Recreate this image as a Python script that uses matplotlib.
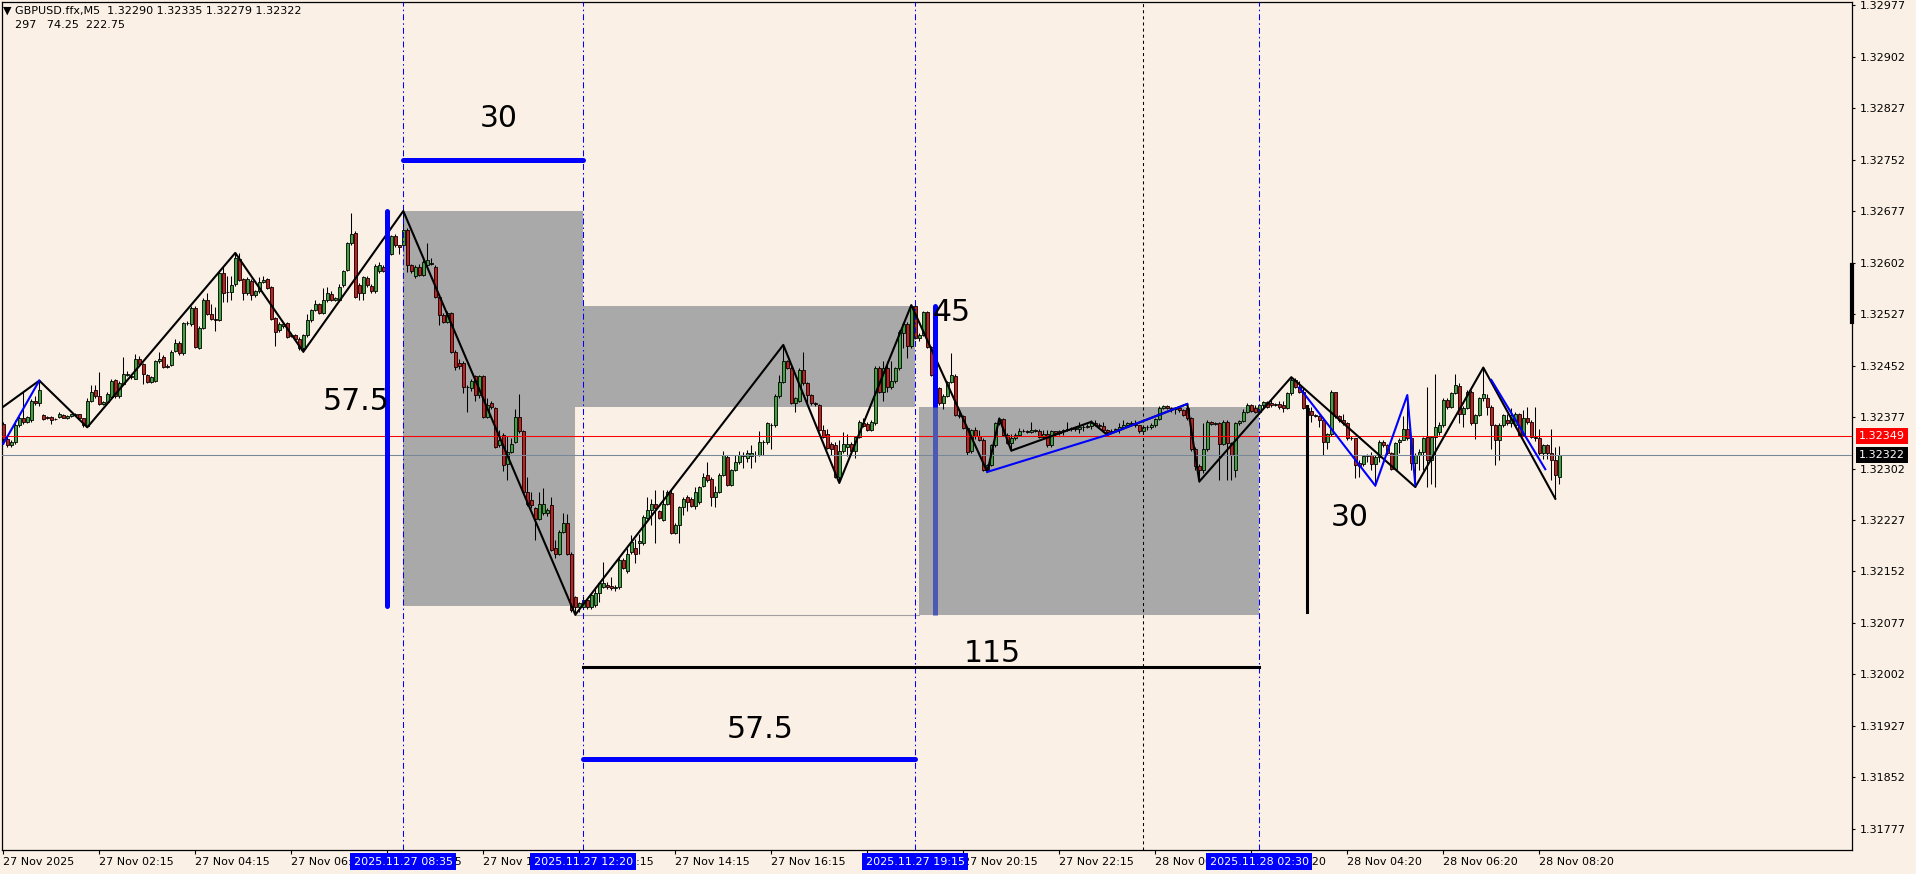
import numpy as np
import matplotlib
matplotlib.use('Agg')
import matplotlib.pyplot as plt
from matplotlib.patches import Rectangle
from matplotlib.transforms import blended_transform_factory

# prices are stored as points above 1.32000 (1 point = 0.00001)
BASE = 1.32
PT = 0.00001

opens = [
    367, 345, 336, 340, 365, 375, 370, 372, 401, 397, 380, 377, 377, 374, 377, 380, 376, 378, 380, 381,
    375, 364, 401, 416, 407, 396, 399, 406, 431, 407, 425, 438, 437, 433, 461, 454, 438, 428, 430, 458,
    464, 450, 453, 473, 485, 470, 514, 512, 536, 478, 507, 548, 527, 520, 519, 586, 559, 559, 570, 607,
    578, 557, 575, 554, 560, 574, 578, 566, 521, 503, 509, 514, 496, 496, 491, 477, 496, 518, 533, 541,
    529, 547, 556, 548, 548, 569, 591, 630, 645, 569, 557, 580, 568, 560, 589, 596, 591, 615, 640, 627,
    627, 649, 598, 582, 596, 584, 598, 601, 596, 552, 526, 516, 528, 472, 455, 455, 421, 419, 436, 409,
    436, 377, 397, 390, 336, 351, 309, 326, 341, 377, 356, 268, 256, 244, 229, 237, 237, 249, 186, 178,
    210, 222, 178, 115, 100, 100, 111, 101, 103, 120, 130, 133, 131, 128, 130, 169, 152, 180, 186, 193,
    193, 230, 241, 250, 240, 227, 251, 266, 208, 220, 246, 261, 257, 248, 253, 276, 292, 286, 260, 268,
    293, 319, 278, 300, 312, 321, 318, 320, 321, 322, 341, 340, 366, 365, 407, 428, 458, 449, 398, 401,
    446, 426, 409, 397, 394, 358, 352, 338, 336, 290, 327, 333, 338, 327, 348, 368, 367, 358, 368, 448,
    414, 449, 420, 430, 448, 499, 513, 480, 538, 492, 497, 530, 479, 433, 419, 397, 408, 428, 437, 380,
    378, 361, 327, 358, 350, 344, 300, 307, 336, 368, 374, 351, 339, 346, 351, 356, 356, 355, 358, 357,
    348, 352, 336, 356, 353, 356, 358, 359, 361, 359, 362, 363, 364, 368, 366, 364, 358, 355, 357, 359,
    363, 366, 368, 367, 365, 356, 362, 363, 365, 374, 390, 393, 390, 388, 390, 387, 390, 375, 330, 305,
    300, 330, 370, 367, 368, 337, 370, 339, 300, 368, 371, 385, 395, 390, 385, 394, 399, 398, 394, 396,
    395, 390, 412, 431, 421, 414, 390, 386, 380, 379, 372, 340, 352, 414, 378, 373, 368, 346, 347, 310,
    308, 320, 321, 309, 319, 341, 336, 324, 302, 341, 344, 360, 346, 310, 322, 326, 348, 314, 348, 355,
    365, 402, 392, 412, 422, 382, 390, 414, 368, 380, 404, 404, 392, 365, 343, 365, 372, 368, 365, 381,
    351, 375, 370, 348, 346, 324, 336, 324, 314, 290,
]
highs = [
    370, 350, 343, 372, 378, 413, 379, 403, 408, 430, 382, 379, 379, 375, 384, 382, 380, 382, 383, 382,
    376, 404, 423, 423, 442, 401, 413, 432, 433, 430, 465, 444, 440, 469, 466, 456, 440, 437, 460, 472,
    468, 454, 474, 491, 487, 516, 517, 538, 538, 509, 550, 557, 542, 537, 590, 595, 583, 583, 616, 616,
    580, 581, 578, 562, 581, 583, 580, 568, 523, 516, 515, 516, 500, 498, 493, 498, 527, 535, 547, 543,
    565, 566, 560, 552, 570, 591, 632, 674, 648, 572, 583, 583, 570, 600, 603, 598, 615, 642, 643, 628,
    677, 652, 600, 599, 600, 605, 630, 608, 598, 556, 528, 531, 530, 474, 462, 458, 424, 432, 438, 438,
    438, 404, 400, 392, 358, 353, 350, 347, 388, 410, 358, 290, 268, 246, 268, 273, 244, 260, 198, 212,
    237, 236, 180, 117, 108, 117, 113, 120, 130, 137, 166, 136, 144, 132, 171, 171, 186, 205, 199, 207,
    234, 261, 258, 271, 242, 271, 271, 271, 222, 248, 260, 263, 260, 275, 277, 296, 312, 290, 277, 295,
    327, 321, 302, 321, 327, 326, 329, 336, 327, 356, 343, 369, 368, 411, 438, 482, 460, 451, 406, 448,
    472, 428, 411, 399, 396, 365, 359, 340, 341, 343, 355, 352, 340, 350, 372, 375, 370, 373, 451, 451,
    458, 459, 459, 450, 503, 515, 516, 540, 540, 500, 532, 532, 481, 435, 421, 410, 430, 470, 439, 389,
    380, 363, 360, 362, 358, 346, 309, 338, 370, 375, 375, 353, 352, 353, 361, 359, 358, 370, 359, 360,
    358, 358, 358, 356, 358, 360, 370, 363, 363, 370, 365, 367, 373, 372, 368, 370, 360, 359, 361, 368,
    372, 370, 371, 373, 366, 365, 366, 368, 376, 393, 395, 394, 391, 392, 391, 388, 396, 377, 333, 308,
    368, 372, 371, 370, 370, 372, 372, 341, 370, 373, 388, 398, 396, 394, 396, 401, 401, 403, 398, 400,
    401, 414, 435, 434, 430, 421, 394, 392, 382, 380, 377, 354, 416, 414, 380, 382, 370, 350, 347, 314,
    322, 323, 326, 321, 343, 343, 337, 326, 341, 347, 379, 409, 346, 324, 330, 348, 421, 350, 440, 369,
    405, 404, 414, 440, 426, 393, 416, 416, 382, 406, 449, 411, 394, 367, 368, 382, 381, 390, 384, 383,
    387, 392, 372, 392, 360, 338, 338, 360, 334, 335,
]
lows = [
    340, 333, 334, 338, 362, 367, 368, 369, 395, 393, 372, 374, 367, 372, 376, 375, 374, 377, 379, 374,
    362, 362, 399, 405, 394, 394, 397, 404, 405, 404, 423, 437, 433, 432, 452, 425, 426, 426, 428, 456,
    448, 448, 451, 471, 468, 468, 511, 510, 477, 476, 505, 525, 518, 502, 517, 545, 545, 547, 568, 575,
    547, 555, 547, 552, 558, 572, 563, 518, 480, 501, 506, 492, 493, 489, 474, 472, 494, 516, 531, 527,
    527, 545, 546, 546, 546, 567, 589, 628, 550, 548, 548, 566, 557, 558, 587, 588, 569, 613, 625, 615,
    625, 588, 586, 580, 582, 582, 596, 598, 550, 511, 514, 514, 470, 445, 447, 412, 385, 415, 400, 405,
    375, 375, 389, 332, 333, 298, 285, 324, 339, 354, 266, 248, 244, 198, 227, 235, 233, 182, 172, 176,
    208, 176, 93, 89, 93, 97, 97, 98, 100, 108, 128, 127, 125, 124, 127, 155, 150, 178, 165, 178,
    191, 228, 220, 193, 228, 225, 249, 206, 206, 193, 235, 240, 246, 243, 250, 275, 283, 247, 246, 266,
    291, 276, 276, 298, 309, 303, 312, 303, 312, 320, 322, 338, 331, 363, 404, 426, 447, 396, 385, 399,
    424, 397, 395, 393, 356, 346, 330, 322, 288, 281, 325, 320, 322, 317, 346, 362, 356, 356, 366, 412,
    400, 414, 418, 426, 446, 478, 463, 478, 490, 488, 495, 477, 436, 417, 395, 389, 406, 426, 378, 376,
    359, 322, 325, 345, 342, 298, 297, 305, 334, 366, 349, 337, 328, 343, 349, 355, 353, 353, 355, 346,
    346, 333, 334, 351, 351, 351, 356, 357, 357, 353, 356, 361, 359, 364, 362, 355, 351, 353, 355, 354,
    362, 364, 365, 362, 354, 355, 358, 359, 363, 372, 388, 388, 385, 381, 385, 378, 373, 327, 300, 283,
    296, 328, 365, 365, 285, 336, 285, 285, 290, 366, 369, 383, 384, 383, 383, 388, 390, 392, 393, 389,
    385, 388, 409, 419, 412, 388, 378, 370, 377, 363, 322, 331, 349, 376, 369, 366, 344, 343, 288, 290,
    306, 312, 300, 277, 312, 334, 322, 300, 301, 325, 344, 344, 300, 275, 300, 300, 275, 280, 275, 351,
    363, 388, 390, 410, 368, 363, 388, 366, 345, 378, 400, 380, 330, 307, 314, 363, 365, 363, 363, 349,
    349, 367, 346, 342, 322, 316, 316, 285, 258, 279,
]
closes = [
    345, 336, 340, 365, 375, 370, 377, 401, 397, 416, 374, 376, 373, 374, 381, 376, 379, 381, 381, 375,
    365, 401, 413, 407, 396, 399, 411, 430, 407, 427, 439, 439, 435, 462, 454, 439, 428, 435, 458, 461,
    450, 452, 472, 485, 470, 514, 514, 536, 479, 507, 548, 527, 520, 519, 587, 557, 559, 569, 608, 577,
    557, 578, 554, 560, 574, 577, 565, 520, 501, 513, 513, 494, 495, 491, 477, 496, 518, 533, 541, 529,
    547, 557, 548, 550, 567, 589, 630, 644, 552, 557, 581, 569, 560, 597, 598, 590, 613, 640, 627, 625,
    649, 598, 589, 596, 584, 603, 606, 600, 552, 526, 516, 528, 472, 450, 452, 421, 420, 429, 409, 436,
    377, 395, 391, 334, 343, 307, 326, 338, 377, 356, 268, 250, 249, 228, 250, 250, 242, 184, 178, 210,
    222, 178, 96, 100, 106, 111, 100, 118, 120, 135, 135, 129, 128, 129, 169, 157, 178, 195, 178, 196,
    232, 242, 250, 245, 230, 251, 268, 208, 220, 246, 258, 253, 248, 268, 275, 290, 285, 260, 268, 293,
    322, 278, 300, 312, 321, 320, 325, 324, 322, 340, 341, 368, 366, 408, 428, 458, 449, 398, 404, 446,
    426, 409, 397, 396, 358, 348, 332, 330, 290, 327, 338, 338, 327, 348, 370, 364, 358, 369, 449, 414,
    449, 420, 430, 448, 501, 513, 480, 538, 492, 497, 530, 479, 438, 419, 397, 408, 428, 438, 380, 378,
    361, 326, 358, 350, 344, 300, 307, 336, 368, 374, 351, 339, 346, 351, 356, 357, 355, 358, 357, 348,
    352, 336, 356, 353, 356, 358, 359, 361, 359, 362, 363, 364, 368, 366, 364, 358, 355, 357, 359, 363,
    366, 368, 367, 365, 356, 362, 363, 365, 374, 390, 393, 390, 388, 390, 387, 380, 375, 330, 305, 300,
    330, 370, 367, 368, 337, 370, 339, 322, 368, 371, 385, 395, 386, 385, 394, 399, 392, 394, 396, 391,
    390, 412, 431, 421, 414, 390, 380, 380, 379, 372, 340, 352, 414, 378, 373, 368, 346, 347, 307, 306,
    320, 321, 309, 319, 341, 336, 324, 302, 339, 344, 360, 346, 310, 322, 326, 346, 314, 348, 362, 365,
    402, 392, 412, 424, 382, 390, 414, 368, 380, 404, 411, 392, 365, 343, 365, 380, 368, 380, 381, 351,
    375, 370, 348, 346, 324, 336, 324, 314, 292, 322,
]

# zigzag pivots (bar index, points)
zz_black_bar = [0, 9, 21, 58, 75, 100, 143, 195, 209, 227, 246, 249, 252, 272, 276, 296, 299, 322, 353, 370, 388]
zz_black_pts = [392, 430, 362, 616, 472, 677, 89, 482, 281, 540, 297, 375, 328, 370, 351, 396, 283, 435, 275, 449, 258]
zz_blue_legs = [
    ([0, 9], [338, 430]),
    ([246, 276, 296], [297, 351, 396]),
    ([324, 343, 351, 353], [420, 277, 409, 278]),
    ([372, 385.5], [431, 301]),
]

# drawn objects: rectangles (bar from, bar to, points low, points high)
gray_boxes = [(100, 145, 102, 677), (145, 228, 391, 539), (229, 314, 89, 391)]
blank_box = (143, 229, 89, 391)
vlines_blue = [100, 145, 228, 314]
vline_times = ['2025.11.27 08:35', '2025.11.27 12:20', '2025.11.27 19:15', '2025.11.28 02:30']
day_sep = 285

tick_bars = list(range(0, 390, 24))
tick_labels = ['27 Nov 2025', '27 Nov 02:15', '27 Nov 04:15', '27 Nov 06:15', '27 Nov 08:15',
               '27 Nov 10:15', '27 Nov 12:15', '27 Nov 14:15', '27 Nov 16:15', '27 Nov 18:15',
               '27 Nov 20:15', '27 Nov 22:15', '28 Nov 00:20', '28 Nov 02:20', '28 Nov 04:20',
               '28 Nov 06:20', '28 Nov 08:20']
price_ticks = [1.31777 + 0.00075 * k for k in range(17)]

BG = '#FAF0E6'
GREEN = '#3FA33F'
RED = '#C81E1E'
BOX = '#A9A9A9'

W, H = 1916, 874
plt.rcParams['lines.scale_dashes'] = False
plt.rcParams['font.family'] = ['DejaVu Sans']

fig = plt.figure(figsize=(W / 100, H / 100), dpi=100, facecolor=BG)
ax = fig.add_axes([2 / W, 24 / H, 1850 / W, 848 / H], facecolor=BG)
ax.set_xlim(-0.325, 462.175)
ax.set_ylim(1.317464, 1.329814)

def p(v):
    return BASE + np.asarray(v, dtype=float) * PT

o, h, l, c = p(opens), p(highs), p(lows), p(closes)
x = np.arange(len(o))

for b0, b1, lo, hi in gray_boxes[:1]:
    ax.add_patch(Rectangle((b0, p(lo)), b1 - b0, p(hi) - p(lo), fc=BOX, ec='none', zorder=1))
b0, b1, lo, hi = blank_box
ax.add_patch(Rectangle((b0, p(lo)), b1 - b0, p(hi) - p(lo), fc=BG, ec='none', zorder=1.1))
for b0, b1, lo, hi in gray_boxes[1:]:
    ax.add_patch(Rectangle((b0, p(lo)), b1 - b0, p(hi) - p(lo), fc=BOX, ec='none', zorder=1.2))
ax.plot([143, 229], [p(89), p(89)], color='#A0A0A0', lw=0.8, zorder=1.3)

# candles
ax.vlines(x, l, h, color='black', lw=0.75, zorder=3)
up = c >= o
ax.bar(x[up], (c - o)[up], bottom=o[up], width=0.75, color=GREEN, edgecolor='black', lw=0.6, zorder=4)
ax.bar(x[~up], (o - c)[~up], bottom=c[~up], width=0.75, color=RED, edgecolor='black', lw=0.6, zorder=4)

# price lines
ax.axhline(1.32349, color='red', lw=0.75, zorder=4.5)
ax.axhline(1.32322, color='#778899', lw=0.75, zorder=4.5)

for b in vlines_blue:
    ax.axvline(b, color='#0000FF', lw=0.75, ls=(0, (4.3, 2.2, 1.1, 2.2)), zorder=4.6)
ax.axvline(day_sep, color='black', lw=0.75, ls=(0, (2.2, 2.2)), zorder=4.6)

# zigzags
ax.plot(zz_black_bar, p(zz_black_pts), color='black', lw=1.5, zorder=5)
for bars, pts in zz_blue_legs:
    ax.plot(bars, p(pts), color='#0000FF', lw=1.5, zorder=5.1)

# measurement lines
ax.plot([96, 96], [p(102), p(677)], color='#0000FF', lw=3.6, solid_capstyle='round', zorder=6)
ax.plot([100, 145], [p(752), p(752)], color='#0000FF', lw=3.6, solid_capstyle='round', zorder=6)
ax.plot([233, 233], [p(391), p(539)], color='#0000FF', lw=3.6, solid_capstyle='round', zorder=6)
ax.plot([233, 233], [p(89), p(391)], color='#4D58B4', lw=3.6, solid_capstyle='butt', zorder=6)
ax.plot([145, 228], [1.31879, 1.31879], color='#0000FF', lw=3.6, solid_capstyle='round', zorder=6)
ax.plot([145, 314], [1.32013, 1.32013], color='black', lw=2.2, zorder=6)
ax.plot([326, 326], [p(93), p(393)], color='black', lw=2.2, zorder=6)

big = dict(fontsize=21.5, color='black', zorder=7, va='center')
ax.text(79.9, 1.32400, '57.5', ha='left', **big)
ax.text(123.8, 1.32812, '30', ha='center', **big)
ax.text(232.4, 1.32529, '45', ha='left', **big)
ax.text(189.2, 1.31922, '57.5', ha='center', **big)
ax.text(247.2, 1.32032, '115', ha='center', **big)
ax.text(336.7, 1.32231, '30', ha='center', **big)

# axes styling
for s in ax.spines.values():
    s.set_color('black')
    s.set_linewidth(0.9)
ax.yaxis.tick_right()
ax.set_yticks(price_ticks)
ax.set_yticklabels(['%.5f' % v for v in price_ticks])
ax.tick_params(axis='y', direction='out', length=2, width=0.8, pad=3.5, labelsize=8, colors='black')
ax.set_xticks(tick_bars)
ax.set_xticklabels(tick_labels, ha='left')
ax.tick_params(axis='x', direction='out', length=3, width=0.8, pad=2, labelsize=8, colors='black')

yside = blended_transform_factory(ax.transAxes, ax.transData)
xside = blended_transform_factory(ax.transData, ax.transAxes)
ax.text(1.0038, 1.32349, '1.32349', transform=yside, ha='left', va='center', fontsize=8, color='white',
        bbox=dict(boxstyle='square,pad=0.25', fc='#FF0000', ec='none'), clip_on=False, zorder=8)
ax.text(1.0038, 1.32322, '1.32322', transform=yside, ha='left', va='center', fontsize=8, color='white',
        bbox=dict(boxstyle='square,pad=0.25', fc='black', ec='none'), clip_on=False, zorder=8)
ax.plot([1.0, 1.0], [p(515), p(598)], transform=yside, color='black', lw=3, clip_on=False, zorder=8)

for b, t in zip(vlines_blue, vline_times):
    ax.text(b, -0.0136, t, transform=xside, ha='center', va='center', fontsize=8, color='white',
            bbox=dict(boxstyle='square,pad=0.3', fc='#0000FF', ec='none'), clip_on=False, zorder=9)

fig.text(3 / W, 1 - 11 / H, '\u25bc GBPUSD.ffx,M5  1.32290 1.32335 1.32279 1.32322',
         fontsize=8, va='center', ha='left')
fig.text(15 / W, 1 - 25 / H, '297   74.25  222.75', fontsize=8, va='center', ha='left')

fig.savefig('out.png', dpi=100, facecolor=BG)
